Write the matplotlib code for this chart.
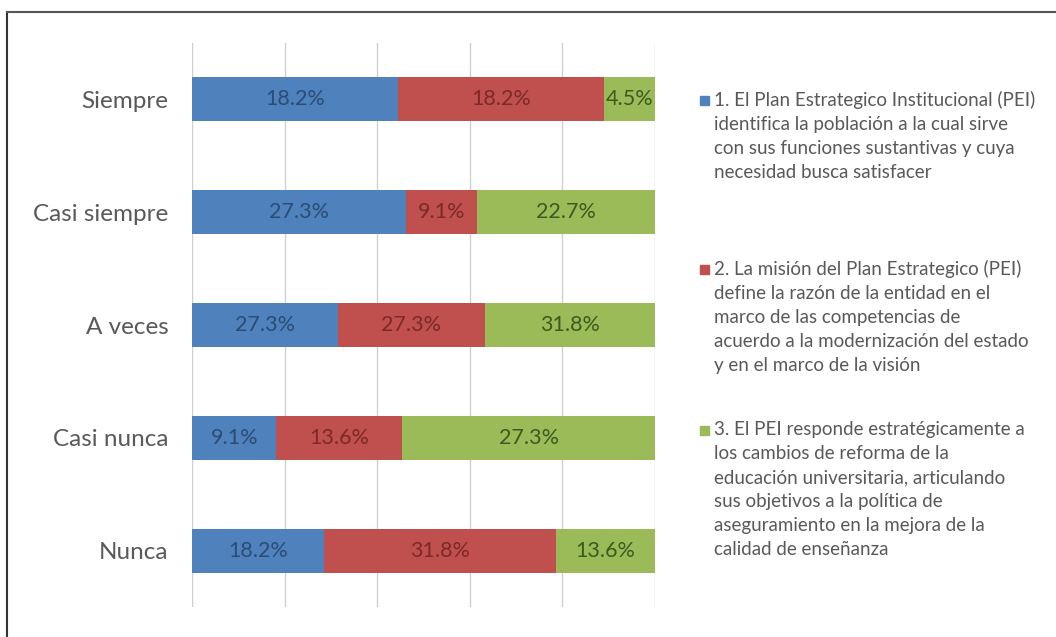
import numpy as np
import matplotlib
matplotlib.use('Agg')
import matplotlib.pyplot as plt
from matplotlib.patches import Rectangle

# response categories, top to bottom
categories = ['Siempre', 'Casi siempre', 'A veces', 'Casi nunca', 'Nunca']

# percentage of respondents per item
item1 = [18.2, 27.3, 27.3, 9.1, 18.2]
item2 = [18.2, 9.1, 27.3, 13.6, 31.8]
item3 = [4.5, 22.7, 31.8, 27.3, 13.6]

legend_labels = [
    '1. El Plan Estrategico Institucional (PEI)\nidentifica la población a la cual sirve\ncon sus funciones sustantivas y cuya\nnecesidad busca satisfacer',
    '2. La misión del Plan Estrategico (PEI)\ndefine la razón de la entidad en el\nmarco de las competencias de\nacuerdo a la modernización del estado\ny en el marco de la visión',
    '3. El PEI responde estratégicamente a\nlos cambios de reforma de la\neducación universitaria, articulando\nsus objetivos a la política de\naseguramiento en la mejora de la\ncalidad de enseñanza',
]

colors = ['#4f81bd', '#c0504d', '#9bbb59']
text_colors = ['#2b4c74', '#7b2a27', '#3d5a1e']

plt.rcParams['font.family'] = ['Lato', 'DejaVu Sans']

fig = plt.figure(figsize=(10.56, 6.37), dpi=100)
ax = fig.add_axes([192/1056, 1-607/637, (655-192)/1056, (607-43)/637])

series = np.array([item1, item2, item3])
totals = series.sum(axis=0)
shares = series / totals  # 100% stacked
y = np.arange(len(categories))

left = np.zeros(len(categories))
for i in range(3):
    ax.barh(y, shares[i], left=left, height=0.39, color=colors[i], zorder=2)
    for j in range(len(categories)):
        ax.text(left[j] + shares[i][j]/2, y[j], '%.1f%%' % series[i][j],
                ha='center', va='center', fontsize=15.5, color=text_colors[i], zorder=3)
    left += shares[i]

ax.set_xlim(0, 1)
ax.set_ylim(len(categories)-0.5, -0.5)
ax.set_xticks(np.linspace(0, 1, 6))
ax.set_xticklabels([])
ax.tick_params(axis='x', length=0)
ax.tick_params(axis='y', length=0, pad=17)
ax.set_yticks(y)
ax.set_yticklabels(categories, fontsize=17.5, color='#595959')
ax.grid(axis='x', color='#d0d0d0', linewidth=1, zorder=0)
for s in ax.spines.values():
    s.set_visible(False)

# legend drawn by hand
legend_tops = [100, 269, 430]
for k in range(3):
    yy = 1 - legend_tops[k]/637
    fig.patches.append(Rectangle((700/1056, yy - 5/637), 9/1056, 9/637,
                                 transform=fig.transFigure, color=colors[k]))
    fig.text(714/1056, yy + 9/637, legend_labels[k], ha='left', va='top',
             fontsize=13.5, color='#595959', linespacing=1.5)

# outer frame
fig.add_artist(plt.Line2D([7/1056, 7/1056], [0, 1-12/637], color='#333333', lw=1.5))
fig.add_artist(plt.Line2D([7/1056, 1], [1-12/637, 1-12/637], color='#555555', lw=1.5))

fig.savefig('out.png', dpi=100)
